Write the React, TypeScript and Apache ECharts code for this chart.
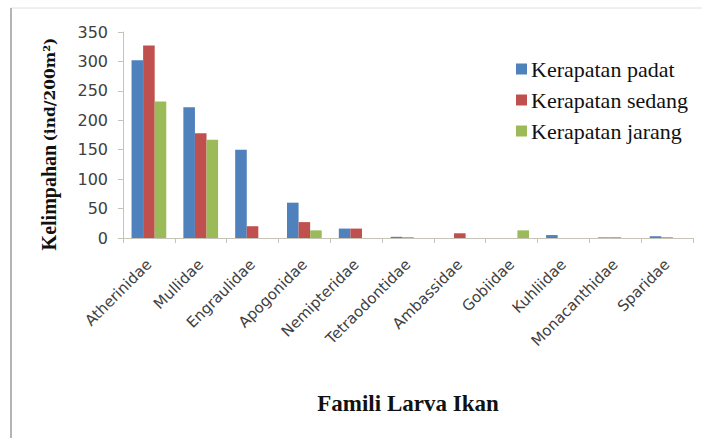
import React, { useEffect, useRef } from "react";
import * as echarts from "echarts";

const categories = [
  "Atherinidae",
  "Mullidae",
  "Engraulidae",
  "Apogonidae",
  "Nemipteridae",
  "Tetraodontidae",
  "Ambassidae",
  "Gobiidae",
  "Kuhliidae",
  "Monacanthidae",
  "Sparidae",
];
const padat = [302, 222, 150, 60, 16, 2, 0, 0, 5, 1, 3];
const sedang = [327, 178, 20, 27, 16, 1, 8, 0, 0, 1, 1];
const jarang = [232, 167, 0, 13, 0, 0, 0, 13, 0, 0, 0];
const seriesNames = ["Kerapatan padat", "Kerapatan sedang", "Kerapatan jarang"];
const colors = ["#4f81bd", "#c0504d", "#9bbb59"];
const yTitle = "Kelimpahan";
const yUnit = "(ind/200m²)";
const xTitle = "Famili Larva Ikan";

export default function App() {
  const ref = useRef<HTMLDivElement>(null);
  useEffect(() => {
    if (!ref.current) return;
    const chart = echarts.init(ref.current, null, { renderer: "svg" });
    const values = [padat, sedang, jarang];
    chart.setOption({
      animation: false,
      backgroundColor: "#ffffff",
      grid: { left: 123, right: 9, top: 32, bottom: 200, containLabel: false },
      legend: {
        left: 511,
        top: 53,
        orient: "vertical",
        itemWidth: 11,
        itemHeight: 11,
        itemGap: 9,
        icon: "rect",
        textStyle: { fontFamily: "Liberation Serif", fontSize: 22, color: "#111", padding: [0, 0, 0, -1] },
        data: seriesNames,
      },
      xAxis: {
        type: "category",
        data: categories,
        axisLine: { lineStyle: { color: "#c8c3b8", width: 1 } },
        axisTick: { show: true, length: 5, lineStyle: { color: "#c8c3b8" } },
        axisLabel: {
          rotate: 45,
          interval: 0,
          margin: 24,
          fontFamily: "DejaVu Sans",
          fontSize: 15,
          color: "#404040",
        },
      },
      yAxis: {
        type: "value",
        min: 0,
        max: 350,
        interval: 50,
        splitLine: { show: false },
        axisLine: { show: true, lineStyle: { color: "#c8c3b8", width: 1 } },
        axisTick: { show: true, length: 5, lineStyle: { color: "#c8c3b8" } },
        axisLabel: {
          margin: 15,
          fontFamily: "DejaVu Sans",
          fontSize: 16,
          color: "#404040",
        },
      },
      series: seriesNames.map((name, i) => ({
        name,
        type: "bar",
        data: values[i],
        barGap: "0%",
        barCategoryGap: "33%",
        itemStyle: { color: colors[i] },
      })),
      graphic: [
        {
          type: "rect",
          shape: { x: 11, y: 8, width: 700, height: 440 },
          style: { fill: "none", stroke: "#e0e0e0", lineWidth: 1 },
          silent: true,
        },
        {
          type: "line",
          shape: { x1: 11, y1: 8, x2: 11, y2: 438 },
          style: { stroke: "#b4b4b4", lineWidth: 2 },
          silent: true,
        },
        {
          type: "text",
          x: 49,
          y: 144,
          rotation: Math.PI / 2,
          style: {
            text: "{a|" + yTitle + "} {b|" + yUnit + "}",
            align: "center",
            verticalAlign: "middle",
            fill: "#111",
            rich: {
              a: { fontFamily: "Liberation Serif", fontWeight: "bold", fontSize: 20, fill: "#111" },
              b: { fontFamily: "DejaVu Serif", fontWeight: "bold", fontSize: 15.5, fill: "#111" },
            },
          },
        },
        {
          type: "text",
          x: 408,
          y: 403,
          style: {
            text: xTitle,
            align: "center",
            verticalAlign: "middle",
            fontFamily: "Liberation Serif",
            fontWeight: "bold",
            fontSize: 23,
            fill: "#111",
          },
        },
      ],
    });
    return () => chart.dispose();
  }, []);
  return <div ref={ref} style={{ width: 702, height: 438, position: "absolute", left: 0, top: 0 }} />;
}
